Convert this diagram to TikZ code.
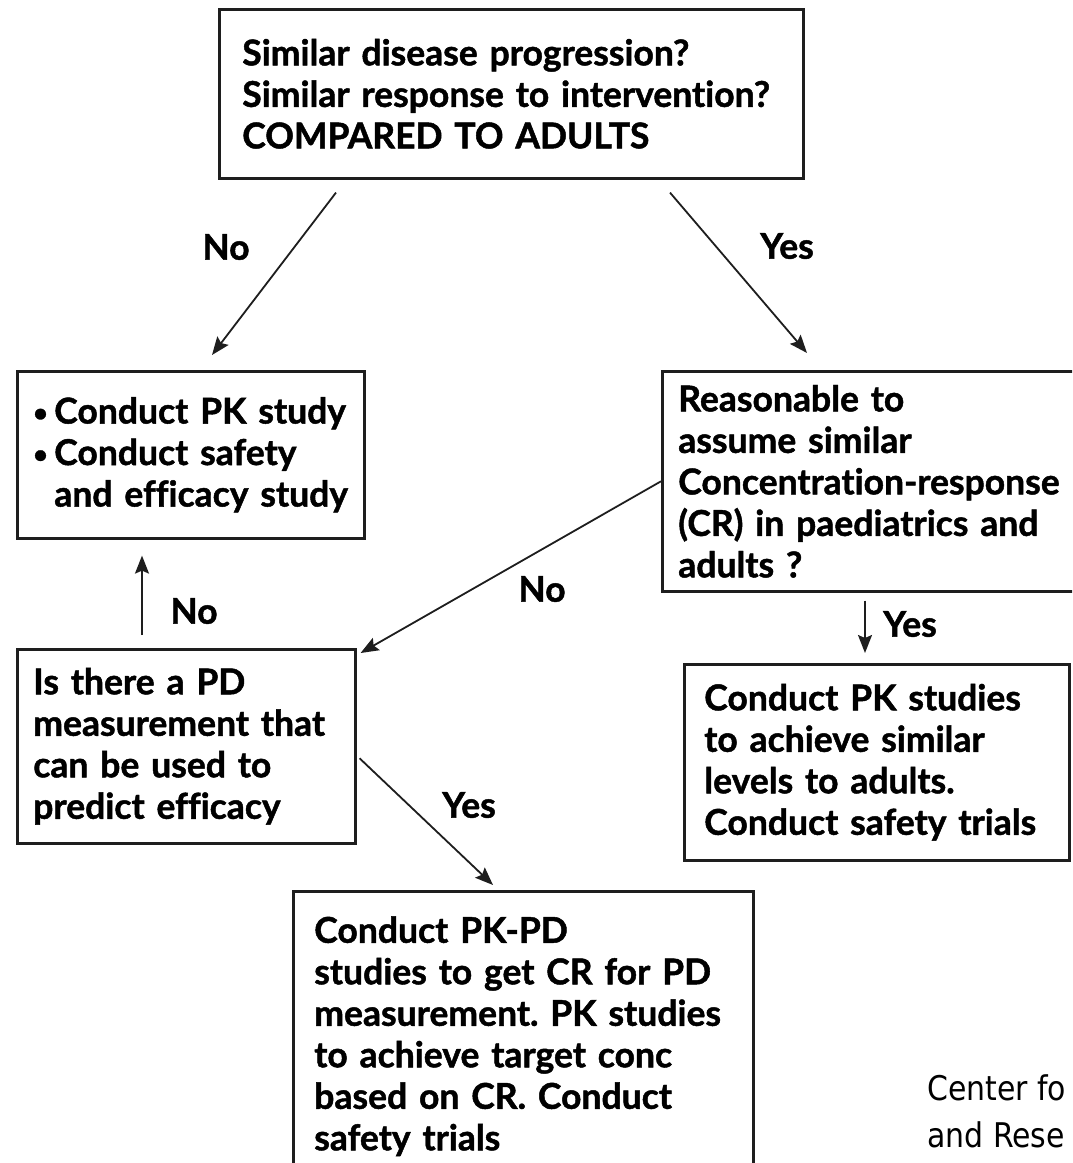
\documentclass[tikz,border=0pt]{standalone}
\usepackage{fontspec}
\usetikzlibrary{arrows.meta}
\newfontfamily\boxfont{Lato}[Ligatures=NoCommon, BoldFeatures={FakeBold=1.3}]
\newfontfamily\notefont{DejaVu Sans}[FakeStretch=0.88]
\definecolor{ink}{HTML}{1E1E1E}
\newcommand{\smallbullet}{\makebox[21pt][l]{\raisebox{2pt}{\scalebox{0.7}{\textbullet}}}}

\begin{document}
\frenchspacing
\begin{tikzpicture}[x=1pt,y=-1pt]
\tikzset{
  flowbox/.style={draw=ink, line width=2.6pt, anchor=north west, inner sep=0pt,
    align=left, text=black,
    font=\boxfont\bfseries\fontsize{35.5}{41.5}\selectfont},
  arr/.style={draw=ink, line width=1.8pt,
    -{Stealth[length=18pt,width=14pt,inset=3pt]}},
  lbl/.style={inner sep=0pt, text=black,
    font=\boxfont\bfseries\fontsize{35.5}{40}\selectfont},
}
\useasboundingbox (0,0) rectangle (1072,1163);
\clip (0,0) rectangle (1072,1163);
\fill[white] (0,0) rectangle (1072,1163);

% decision and action boxes
\node[flowbox, minimum width=584pt, minimum height=169pt, text width=538pt]
  (top) at (218,8)
  {Similar disease progression?\\Similar response to intervention?\\COMPARED TO ADULTS};
\node[flowbox, minimum width=347pt, minimum height=167pt, text width=315pt]
  (studies) at (16,370)
  {\smallbullet Conduct PK study\\
   \smallbullet Conduct safety\\
   \hspace*{21pt}and efficacy study};
\node[flowbox, minimum width=434pt, minimum height=220pt, text width=402pt]
  (cr) at (661,370)
  {Reasonable to\\assume similar\\Concentration-response\\(CR) in paediatrics and\\adults ?};
\node[flowbox, minimum width=338pt, minimum height=194pt, text width=306pt]
  (pd) at (16,648)
  {Is there a PD\\measurement that\\can be used to\\predict efficacy};
\node[flowbox, minimum width=385pt, minimum height=196pt, text width=345pt]
  (pkyes) at (683,663)
  {Conduct PK studies\\to achieve similar\\levels to adults.\\Conduct safety trials};
\node[flowbox, minimum width=460pt, minimum height=290pt, text width=418pt]
  (pkpd) at (292,890)
  {Conduct PK-PD\\studies to get CR for PD\\measurement. PK studies\\to achieve target conc\\based on CR. Conduct\\safety trials};

% connectors
\draw[arr] ([xshift=118pt,yshift=-13pt]top.south west) -- ([xshift=196pt,yshift=15pt]studies.north west);
\draw[arr] ([xshift=452pt,yshift=-13pt]top.south west) -- ([xshift=146pt,yshift=17pt]cr.north west);
\draw[arr] (cr.west) -- ([xshift=4pt,yshift=-5pt]pd.north east);
\draw[arr] ([xshift=126pt,yshift=13pt]pd.north west) -- ([xshift=126pt,yshift=-16pt]studies.south west);
\draw[arr] ([xshift=204pt,yshift=-8pt]cr.south west) -- ([xshift=182pt,yshift=10pt]pkyes.north west);
\draw[arr] ([xshift=3pt,yshift=-12pt]pd.east) -- ([xshift=201pt,yshift=5pt]pkpd.north west);

% branch labels
\node[lbl] (noA) at (226,247) {No};
\node[lbl] (yesA) at (787,246) {Yes};
\node[lbl] (noB) at (542,589) {No};
\node[lbl] (noC) at (194,611) {No};
\node[lbl] (yesB) at (910,624) {Yes};
\node[lbl] (yesC) at (469,805) {Yes};

% credit line
\node[anchor=base west, inner sep=0pt, align=left,
  font=\notefont\fontsize{34}{47}\selectfont] (credit) at (927,1147)
  {Center fo\\and Rese};
\end{tikzpicture}
\end{document}
